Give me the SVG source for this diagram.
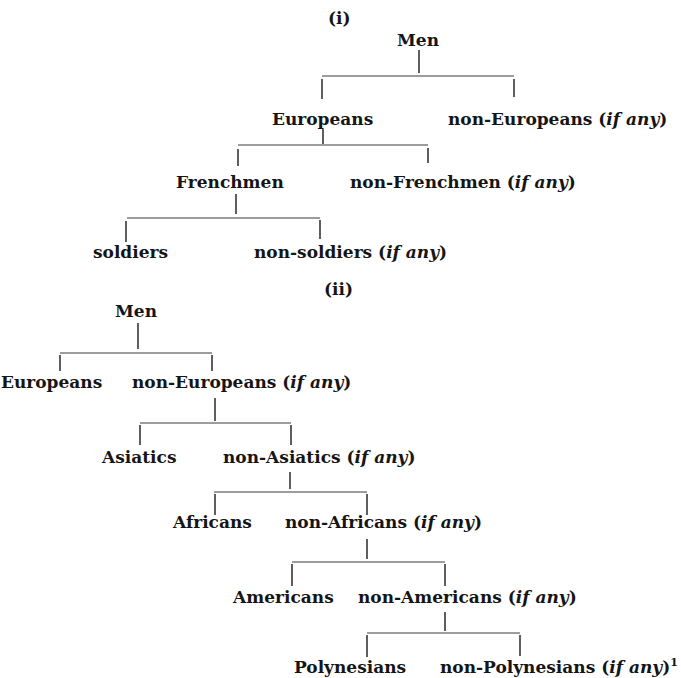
<svg xmlns="http://www.w3.org/2000/svg" width="681" height="678" viewBox="0 0 681 678">
  <style>
    .t { font-family: "DejaVu Serif", "Liberation Serif", serif; font-size: 17px; font-weight: bold; fill: #151515; }
    .i { font-style: italic; }
    .lbl { font-family: "DejaVu Serif", "Liberation Serif", serif; font-size: 17px; font-weight: bold; fill: #151515; }
    .c line { stroke: #1a1a1a; stroke-width: 1.4; }
    .c line.h { stroke: #3a3a3a; stroke-width: 1; }
  </style>
  <rect width="681" height="678" fill="#fff"/>

  <!-- Tree (i) -->
  <text class="lbl" x="328" y="24">(i)</text>
  <g id="i-men"><text class="t" x="397" y="46">Men</text></g>
  <g id="i-europeans"><text class="t" x="272" y="125">Europeans</text></g>
  <g id="i-non-europeans"><text class="t" x="448" y="125">non-Europeans (<tspan class="i">if any</tspan>)</text></g>
  <g id="i-frenchmen"><text class="t" x="176" y="188">Frenchmen</text></g>
  <g id="i-non-frenchmen"><text class="t" x="350" y="188">non-Frenchmen (<tspan class="i">if any</tspan>)</text></g>
  <g id="i-soldiers"><text class="t" x="93" y="258">soldiers</text></g>
  <g id="i-non-soldiers"><text class="t" x="254" y="258">non-soldiers (<tspan class="i">if any</tspan>)</text></g>

  <!-- Tree (ii) -->
  <text class="lbl" x="324" y="295">(ii)</text>
  <g id="ii-men"><text class="t" x="115" y="317">Men</text></g>
  <g id="ii-europeans"><text class="t" x="1" y="388">Europeans</text></g>
  <g id="ii-non-europeans"><text class="t" x="132" y="388">non-Europeans (<tspan class="i">if any</tspan>)</text></g>
  <g id="ii-asiatics"><text class="t" x="102" y="463">Asiatics</text></g>
  <g id="ii-non-asiatics"><text class="t" x="223" y="463">non-Asiatics (<tspan class="i">if any</tspan>)</text></g>
  <g id="ii-africans"><text class="t" x="173" y="528">Africans</text></g>
  <g id="ii-non-africans"><text class="t" x="285" y="528">non-Africans (<tspan class="i">if any</tspan>)</text></g>
  <g id="ii-americans"><text class="t" x="233" y="603">Americans</text></g>
  <g id="ii-non-americans"><text class="t" x="358" y="603">non-Americans (<tspan class="i">if any</tspan>)</text></g>
  <g id="ii-polynesians"><text class="t" x="294" y="673">Polynesians</text></g>
  <g id="ii-non-polynesians"><text class="t" x="440" y="673">non-Polynesians (<tspan class="i">if any</tspan>)<tspan font-size="11" dy="-7">1</tspan></text></g>

  <!-- Connectors -->
  <g id="connectors" class="c">
    <!-- (i) Men -->
    <line x1="419" y1="50" x2="419" y2="73"/>
    <line class="h" x1="322" y1="76" x2="514" y2="76"/>
    <line x1="322" y1="79" x2="322" y2="99"/>
    <line x1="514" y1="79" x2="514" y2="97"/>
    <!-- (i) Europeans -->
    <line x1="323" y1="129" x2="323" y2="144"/>
    <line class="h" x1="238" y1="145" x2="428" y2="145"/>
    <line x1="238" y1="149" x2="238" y2="166"/>
    <line x1="428" y1="148" x2="428" y2="163"/>
    <!-- (i) Frenchmen -->
    <line x1="236" y1="194" x2="236" y2="214"/>
    <line class="h" x1="127" y1="218" x2="320" y2="218"/>
    <line x1="126" y1="221" x2="126" y2="242"/>
    <line x1="320" y1="220" x2="320" y2="239"/>

    <!-- (ii) Men -->
    <line x1="138" y1="323" x2="138" y2="349"/>
    <line class="h" x1="60" y1="353" x2="212" y2="353"/>
    <line x1="60" y1="355" x2="60" y2="371"/>
    <line x1="212" y1="355" x2="212" y2="371"/>
    <!-- (ii) non-Europeans -->
    <line x1="215" y1="398" x2="215" y2="421"/>
    <line class="h" x1="140" y1="423" x2="291" y2="423"/>
    <line x1="140" y1="425" x2="140" y2="445"/>
    <line x1="291" y1="425" x2="291" y2="445"/>
    <!-- (ii) non-Asiatics -->
    <line x1="290" y1="472" x2="290" y2="489"/>
    <line class="h" x1="214" y1="492" x2="367" y2="492"/>
    <line x1="215" y1="494" x2="215" y2="515"/>
    <line x1="367" y1="494" x2="367" y2="515"/>
    <!-- (ii) non-Africans -->
    <line x1="367" y1="539" x2="367" y2="559"/>
    <line class="h" x1="292" y1="562" x2="445" y2="562"/>
    <line x1="292" y1="564" x2="292" y2="586"/>
    <line x1="445" y1="564" x2="445" y2="586"/>
    <!-- (ii) non-Americans -->
    <line x1="445" y1="612" x2="445" y2="631"/>
    <line class="h" x1="367" y1="633" x2="520" y2="633"/>
    <line x1="367" y1="635" x2="367" y2="657"/>
    <line x1="520" y1="635" x2="520" y2="656"/>
  </g>
</svg>
